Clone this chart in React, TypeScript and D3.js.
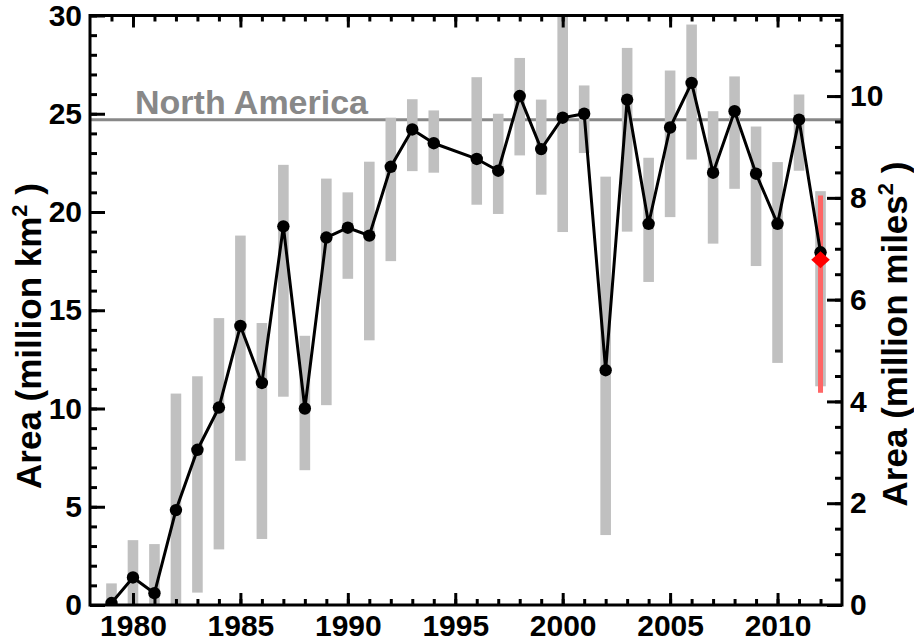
import { useRef, useEffect } from "react";
import * as d3 from "d3";

// year, best estimate and range (million km^2); 1995 has no data
const years = [
  1979, 1980, 1981, 1982, 1983, 1984, 1985, 1986, 1987, 1988, 1989, 1990, 1991,
  1992, 1993, 1994, 1996, 1997, 1998, 1999, 2000, 2001, 2002, 2003, 2004, 2005,
  2006, 2007, 2008, 2009, 2010, 2011, 2012,
];
const area = [
  0.1, 1.4, 0.6, 4.83, 7.9, 10.05, 14.2, 11.3, 19.27, 10.0, 18.7, 19.2, 18.8,
  22.3, 24.2, 23.5, 22.7, 22.1, 25.9, 23.2, 24.8, 25.0, 11.95, 25.72, 19.4, 24.3,
  26.57, 22.0, 25.13, 21.95, 19.4, 24.7, 17.95,
];
const low = [
  0, 0, 0, 0, 0.63, 2.83, 7.34, 3.36, 10.6, 6.86, 10.17, 16.6, 13.47, 17.5,
  22.08, 22.0, 20.37, 19.9, 22.88, 20.88, 18.98, 23.0, 3.56, 19.0, 16.44, 19.74,
  22.67, 18.39, 21.18, 17.25, 12.32, 22.1, 11.13,
];
const high = [
  1.1, 3.3, 3.1, 10.76, 11.64, 14.6, 18.8, 14.35, 22.4, 13.7, 21.7, 21.0, 22.56,
  24.8, 25.74, 25.17, 26.86, 25.0, 27.84, 25.72, 30.5, 26.44, 21.8, 28.35, 22.76,
  27.2, 29.54, 25.13, 26.9, 24.35, 22.54, 25.98, 21.06,
];

// 2012 preliminary estimate (red)
const prelimYear = 2012;
const prelimValue = 17.57;
const prelimRange = [10.8, 20.84];

const northAmerica = 24.7;
const xTicks = [1980, 1985, 1990, 1995, 2000, 2005, 2010];
const yTicks = [0, 5, 10, 15, 20, 25, 30];
const y2Ticks = [0, 2, 4, 6, 8, 10];
const KM2_PER_MI2 = 2.58999;

export default function App() {
  const ref = useRef<SVGSVGElement>(null);

  function init() {
    const settings = {
      width: 914,
      height: 641,
      margin: { top: 15.5, right: 72, bottom: 36, left: 90 },
    };
    const W = settings.width;
    const H = settings.height;
    const m = settings.margin;
    const font = "'Liberation Sans', Arial, Helvetica, sans-serif";

    const x = d3.scaleLinear().domain([1978, 2013]).range([m.left, W - m.right]);
    const y = d3.scaleLinear().domain([0, 30]).range([H - m.bottom, m.top]);
    const y2 = d3
      .scaleLinear()
      .domain([0, 30 / KM2_PER_MI2])
      .range([H - m.bottom, m.top]);

    const svg = d3.select(ref.current);
    svg.selectAll("*").remove();
    svg.attr("font-family", font).attr("font-weight", "bold");

    svg
      .append("clipPath")
      .attr("id", "plotclip")
      .append("rect")
      .attr("x", m.left)
      .attr("y", m.top)
      .attr("width", W - m.left - m.right)
      .attr("height", H - m.top - m.bottom);

    const plot = svg.append("g").attr("clip-path", "url(#plotclip)");

    // North America reference line
    plot
      .append("line")
      .attr("x1", m.left)
      .attr("x2", W - m.right)
      .attr("y1", y(northAmerica))
      .attr("y2", y(northAmerica))
      .attr("stroke", "#888")
      .attr("stroke-width", 3);

    // range bars
    plot
      .selectAll("rect.range")
      .data(years)
      .join("rect")
      .attr("class", "range")
      .attr("x", (d) => x(d) - 5.3)
      .attr("width", 10.6)
      .attr("y", (d, i) => y(high[i]))
      .attr("height", (d, i) => y(low[i]) - y(high[i]))
      .attr("fill", "#c0c0c0");

    plot
      .append("rect")
      .attr("x", x(prelimYear) - 2.5)
      .attr("width", 5)
      .attr("y", y(prelimRange[1]))
      .attr("height", y(prelimRange[0]) - y(prelimRange[1]))
      .attr("fill", "#ff6666");

    const line = d3
      .line<number>()
      .x((d, i) => x(years[i]))
      .y((d) => y(d));

    plot
      .append("path")
      .attr("d", line(area))
      .attr("fill", "none")
      .attr("stroke", "#000")
      .attr("stroke-width", 3)
      .attr("stroke-linejoin", "round");

    plot
      .selectAll("circle.pt")
      .data(area)
      .join("circle")
      .attr("class", "pt")
      .attr("cx", (d, i) => x(years[i]))
      .attr("cy", (d) => y(d))
      .attr("r", 6.2)
      .attr("fill", "#000");

    plot
      .append("path")
      .attr("d", d3.symbol(d3.symbolDiamond2, 200)())
      .attr("transform", `translate(${x(prelimYear)},${y(prelimValue)}) scale(1.05,0.95)`)
      .attr("fill", "#ff0000");

    svg
      .append("text")
      .attr("x", 135)
      .attr("y", y(northAmerica) - 6)
      .attr("fill", "#888")
      .attr("font-size", 34)
      .text("North America");

    // axes
    const styleAxis = (g) => {
      g.select(".domain").remove();
      g.selectAll("line").attr("stroke", "#000").attr("stroke-width", 3);
      g.selectAll("text").attr("fill", "#000").attr("font-size", 30).attr("font-family", font);
    };

    const yearMinor = d3.range(1979, 2013);
    const bottom = H - m.bottom;
    const top = m.top;

    svg
      .append("g")
      .attr("transform", `translate(0,${bottom})`)
      .call(d3.axisBottom(x).tickValues(yearMinor).tickSize(-6).tickFormat(() => ""))
      .call(styleAxis);
    svg
      .append("g")
      .attr("transform", `translate(0,${bottom})`)
      .call(
        d3.axisBottom(x).tickValues(xTicks).tickSize(-12).tickPadding(10).tickFormat(d3.format("d"))
      )
      .call(styleAxis);
    svg
      .append("g")
      .attr("transform", `translate(0,${top})`)
      .call(d3.axisTop(x).tickValues(yearMinor).tickSize(-6).tickFormat(() => ""))
      .call(styleAxis);
    svg
      .append("g")
      .attr("transform", `translate(0,${top})`)
      .call(d3.axisTop(x).tickValues(xTicks).tickSize(-12).tickFormat(() => ""))
      .call(styleAxis);

    svg
      .append("g")
      .attr("transform", `translate(${m.left},0)`)
      .call(d3.axisLeft(y).tickValues(d3.range(0, 31)).tickSize(-7).tickFormat(() => ""))
      .call(styleAxis);
    svg
      .append("g")
      .attr("transform", `translate(${m.left},0)`)
      .call(d3.axisLeft(y).tickValues(yTicks).tickSize(-15).tickPadding(8))
      .call(styleAxis);

    svg
      .append("g")
      .attr("transform", `translate(${W - m.right},0)`)
      .call(
        d3.axisRight(y2).tickValues(d3.range(0, 11.6, 0.5)).tickSize(-7).tickFormat(() => "")
      )
      .call(styleAxis);
    svg
      .append("g")
      .attr("transform", `translate(${W - m.right},0)`)
      .call(d3.axisRight(y2).tickValues(y2Ticks).tickSize(-15).tickPadding(8))
      .call(styleAxis);

    // frame
    svg
      .append("rect")
      .attr("x", m.left)
      .attr("y", m.top)
      .attr("width", W - m.left - m.right)
      .attr("height", H - m.top - m.bottom)
      .attr("fill", "none")
      .attr("stroke", "#000")
      .attr("stroke-width", 3);

    // axis titles
    const title = (tx, ty, unit) => {
      const t = svg
        .append("text")
        .attr("transform", `translate(${tx},${ty}) rotate(-90)`)
        .attr("text-anchor", "middle")
        .attr("font-size", 35)
        .attr("fill", "#000");
      t.append("tspan").text(`Area (million ${unit}`);
      t.append("tspan").attr("font-size", 22).attr("dy", -14).text("2");
      t.append("tspan").attr("dy", 14).text(" )");
    };
    title(41, 336, "km");
    title(907, 334, "miles");
  }

  useEffect(init, []);
  return (
    <svg
      ref={ref}
      width={914}
      height={641}
      style={{ position: "absolute", left: 0, top: 0, background: "#fff" }}
    />
  );
}
